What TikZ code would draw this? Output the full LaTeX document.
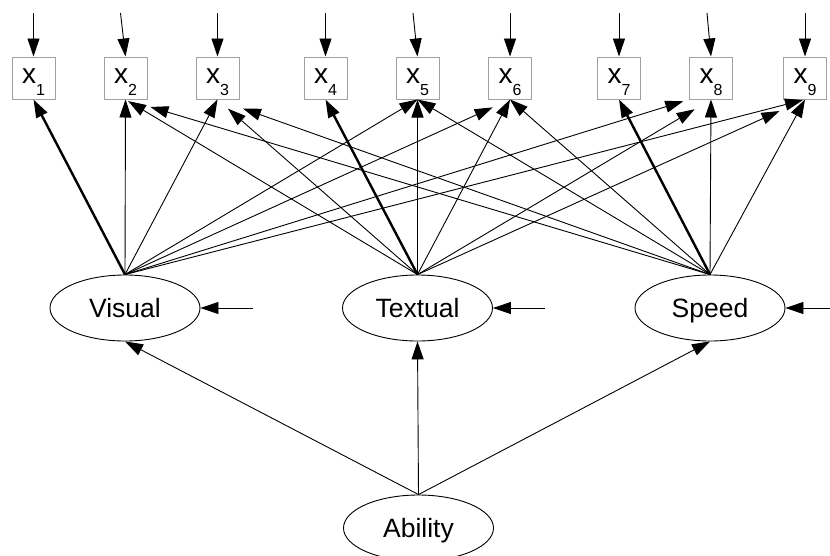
\documentclass[tikz,border=0pt]{standalone}
\usepackage{fontspec}
\setmainfont{Liberation Sans}
\usetikzlibrary{arrows.meta,shapes.geometric}
\definecolor{boxgray}{RGB}{160,160,160}
% indicator label: large x with a lowered index
\newcommand\indlabel[1]{\smash{\raisebox{-5pt}{x\raisebox{-12pt}{\fontsize{16}{16}\selectfont #1}}}}
\begin{document}
\begin{tikzpicture}[x=1pt,y=-1pt,
  obs/.style={draw=boxgray,line width=1pt,rectangle,inner sep=0pt,
    minimum width=43pt,minimum height=42pt,font=\fontsize{28}{28}\selectfont},
  lat/.style={draw=black,line width=0.9pt,ellipse,inner sep=0pt,
    minimum width=150pt,minimum height=66pt,text height=19pt,text depth=0pt,
    font=\fontsize{26.5}{26.5}\selectfont},
  arr/.style={line width=0.9pt,-{Triangle[length=18pt,width=12pt]}},
  thickarr/.style={line width=2.4pt,-{Triangle[length=18pt,width=12pt]}}]
\useasboundingbox (0,0) rectangle (830,555);

% observed indicators
\node[obs] (x1) at (33.5,78) {\indlabel{1}};
\node[obs] (x2) at (125.5,78) {\indlabel{2}};
\node[obs] (x3) at (217.5,78) {\indlabel{3}};
\node[obs] (x4) at (325.5,78) {\indlabel{4}};
\node[obs] (x5) at (417.5,78) {\indlabel{5}};
\node[obs] (x6) at (510,78) {\indlabel{6}};
\node[obs] (x7) at (619,78) {\indlabel{7}};
\node[obs] (x8) at (711,78) {\indlabel{8}};
\node[obs] (x9) at (805,78) {\indlabel{9}};

% latent factors
\node[lat] (vis) at (125,308) {Visual};
\node[lat] (tex) at (417.5,308) {Textual};
\node[lat] (spd) at (710,308) {Speed};
\node[lat] (abl) at (418.5,528) {Ability};

% free ends of the residual arrows
\coordinate (r1) at (33.5,13);
\coordinate (r2) at (120.5,13);
\coordinate (r3) at (217.5,13);
\coordinate (r4) at (325.5,13);
\coordinate (r5) at (413,13);
\coordinate (r6) at (510,13);
\coordinate (r7) at (619,13);
\coordinate (r8) at (707,13);
\coordinate (r9) at (805,13);
\coordinate (dvis) at (253,308);
\coordinate (dtex) at (545,308);
\coordinate (dspd) at (832,308);

% residuals
\foreach \k in {1,...,9} \draw[arr] (r\k) -- (x\k.north);
\draw[arr] (dvis) -- (vis.east);
\draw[arr] (dtex) -- (tex.east);
\draw[arr] (dspd) -- (spd.east);

% loadings of Visual
\draw[thickarr] (vis.north) -- (x1.south);
\draw[arr] (vis.north) -- (x2.south);
\draw[arr] (vis.north) -- (x3.south);
\draw[arr] (vis.north) -- (x5.south);
\draw[arr,shorten >=19pt] (vis.north) -- (x6.south);
\draw[arr,shorten >=6pt] (vis.north) -- (x8.south west);
\draw[arr,shorten >=2pt] (vis.north) -- (x9.south);

% loadings of Textual
\draw[thickarr] (tex.north) -- (x4.south);
\draw[arr,shorten >=3pt] (tex.north) -- (x2.south);
\draw[arr,shorten >=14pt] (tex.north) -- (x3.south);
\draw[arr] (tex.north) -- (x5.south);
\draw[arr] (tex.north) -- (x6.south);
\draw[arr,shorten >=19pt] (tex.north) -- (x8.south);
\draw[arr,shorten >=28pt] (tex.north) -- (x9.south);

% loadings of Speed
\draw[thickarr] (spd.north) -- (x7.south);
\draw[arr,shorten >=26pt] (spd.north) -- (x2.south);
\draw[arr,shorten >=27pt] (spd.north) -- (x3.south);
\draw[arr] (spd.north) -- (x5.south);
\draw[arr] (spd.north) -- (x6.south);
\draw[arr] (spd.north) -- (x8.south);
\draw[arr] (spd.north) -- (x9.south);

% second-order factor
\draw[arr] (abl.north) -- (vis.south);
\draw[arr] (abl.north) -- (tex.south);
\draw[arr] (abl.north) -- (spd.south);
\end{tikzpicture}
\end{document}
